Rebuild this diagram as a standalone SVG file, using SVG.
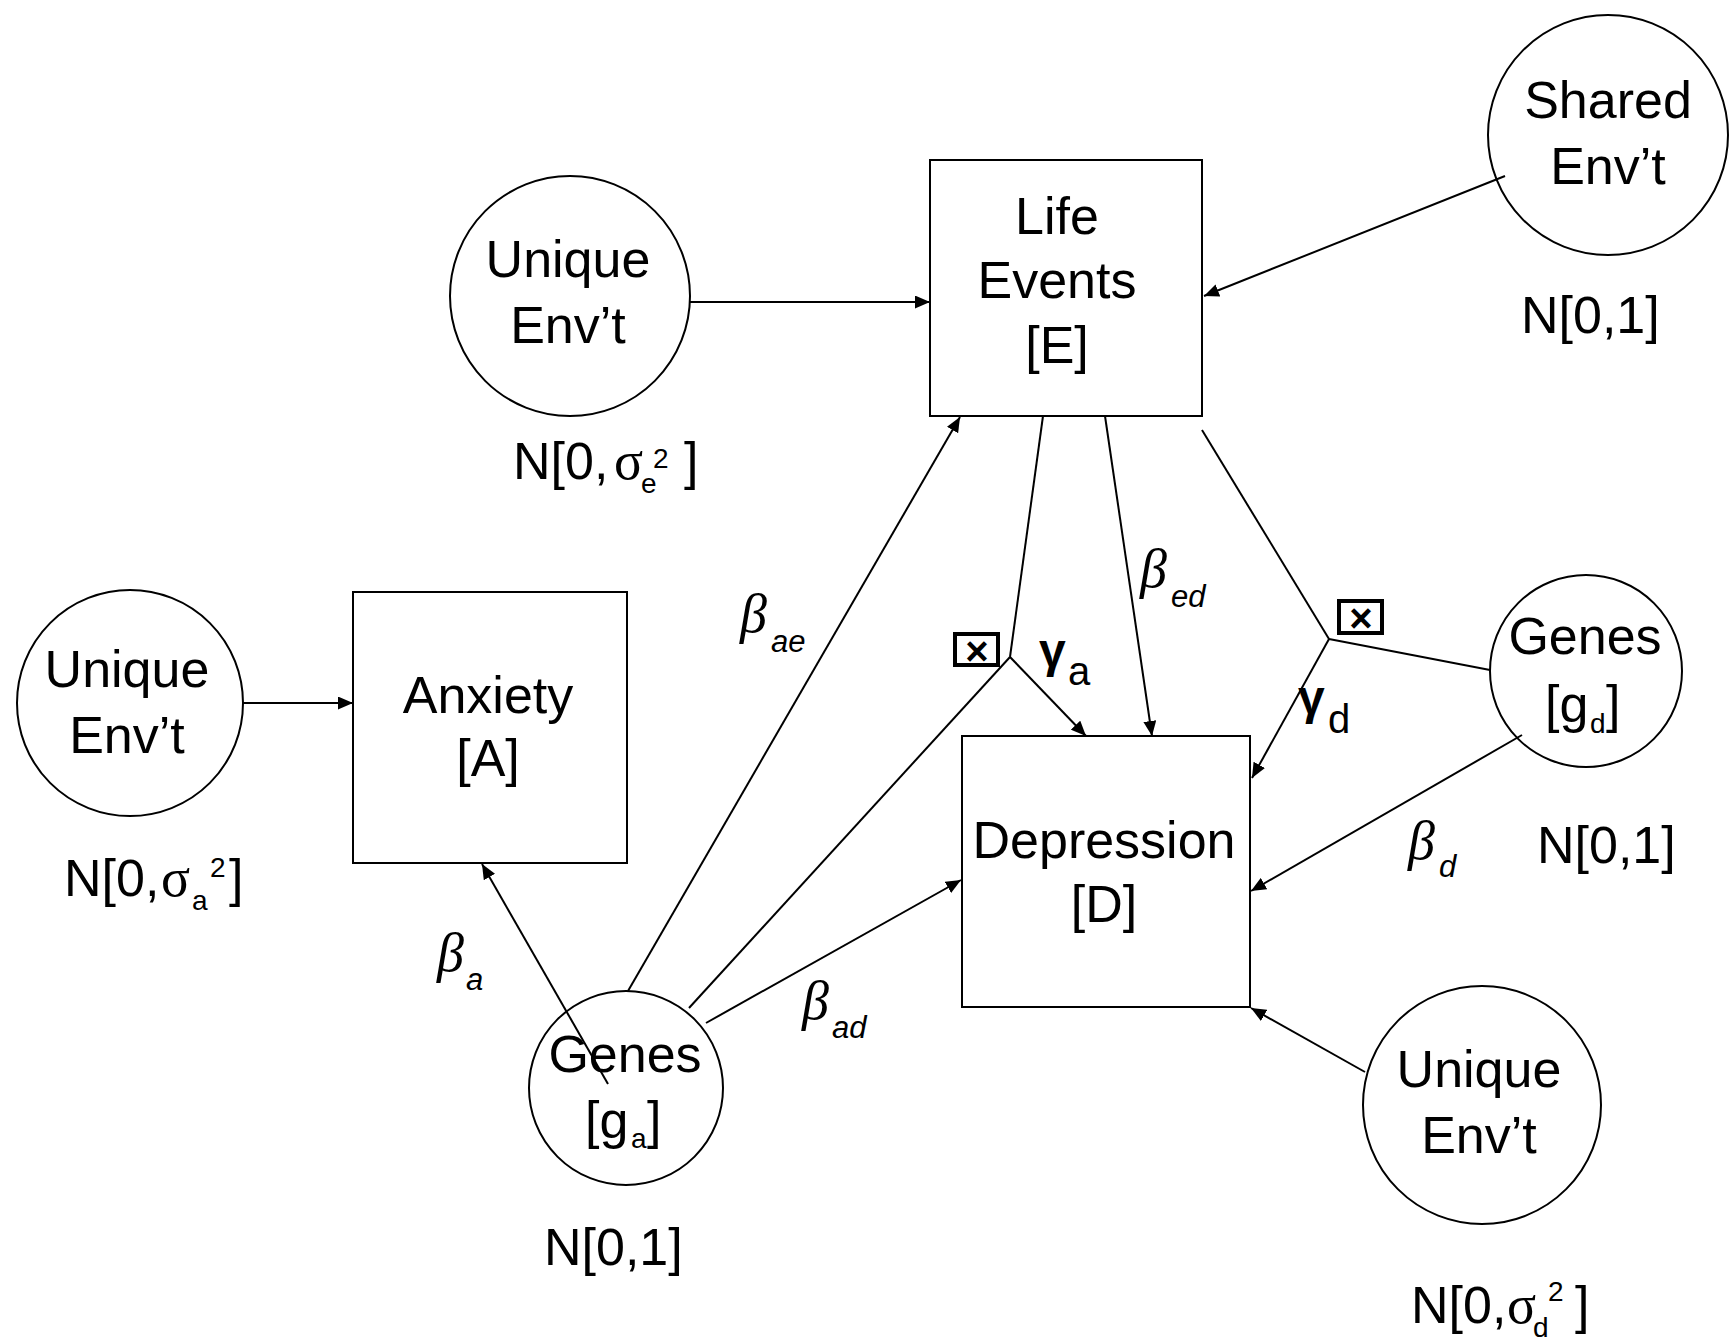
<svg xmlns="http://www.w3.org/2000/svg" width="1729" height="1341" viewBox="0 0 1729 1341">
<defs>
<style>
.t{font-family:"Liberation Sans",Arial,sans-serif;font-size:52px;fill:#000}
.c{text-anchor:middle}
.s{font-family:"Liberation Sans",Arial,sans-serif;font-size:28px;fill:#000}
.g{font-family:"Liberation Serif","Times New Roman",serif;font-size:54px;fill:#000}
.b{font-family:"Liberation Serif","Times New Roman",serif;font-style:italic;font-size:54px;fill:#000}
.bs{font-family:"Liberation Sans",Arial,sans-serif;font-style:italic;font-size:31px;fill:#000}
.gm{font-family:"Liberation Sans",Arial,sans-serif;font-weight:bold;font-size:48px;fill:#000}
.gs{font-family:"Liberation Sans",Arial,sans-serif;font-size:40px;fill:#000}
.node{fill:#fff;stroke:#000;stroke-width:2}
.open{fill:none;stroke:#000;stroke-width:2}
.ln{fill:none;stroke:#000;stroke-width:2}
.arr{marker-end:url(#ah)}
.xb{fill:#fff;stroke:#000;stroke-width:4}
.xt{font-family:"Liberation Sans",Arial,sans-serif;font-weight:bold;font-size:40px;text-anchor:middle;fill:#000}
</style>
<marker id="ah" markerUnits="userSpaceOnUse" markerWidth="16" markerHeight="13" refX="15" refY="6.5" orient="auto">
<path d="M0,0 L15,6.5 L0,13 z" fill="#000"/>
</marker>
</defs>
<rect width="1729" height="1341" fill="#fff"/>

<g id="node-life-events">
<rect class="node" x="930" y="160" width="272" height="256"/>
<text class="t c" x="1057" y="234">Life</text>
<text class="t c" x="1057" y="298">Events</text>
<text class="t c" x="1057" y="363">[E]</text>
</g>

<g id="node-anxiety">
<rect class="node" x="353" y="592" width="274" height="271"/>
<text class="t c" x="488" y="713">Anxiety</text>
<text class="t c" x="488" y="776">[A]</text>
</g>

<g id="node-depression">
<rect class="node" x="962" y="736" width="288" height="271"/>
<text class="t c" x="1104" y="858">Depression</text>
<text class="t c" x="1104" y="922">[D]</text>
</g>

<g id="node-unique-env-e">
<circle class="node" cx="570" cy="296" r="120"/>
<text class="t c" x="568" y="277">Unique</text>
<text class="t c" x="568" y="343">Env’t</text>
<text class="t" x="513" y="479">N[0,</text>
<text class="g" x="614" y="479">σ</text>
<text class="s" x="641" y="493">e</text>
<text class="s" x="653" y="468">2</text>
<text class="t" x="684" y="479">]</text>
</g>

<g id="node-shared-env">
<circle class="node" cx="1608" cy="135" r="120"/>
<text class="t c" x="1608" y="118">Shared</text>
<text class="t c" x="1608" y="184">Env’t</text>
<text class="t" x="1521" y="333">N[0,1]</text>
</g>

<g id="node-unique-env-a">
<circle class="node" cx="130" cy="703" r="113"/>
<text class="t c" x="127" y="687">Unique</text>
<text class="t c" x="127" y="753">Env’t</text>
<text class="t" x="64" y="896">N[0,</text>
<text class="g" x="161" y="896">σ</text>
<text class="s" x="192" y="910">a</text>
<text class="s" x="210" y="877">2</text>
<text class="t" x="229" y="896">]</text>
</g>

<g id="node-genes-a">
<circle class="open" cx="626" cy="1088" r="97"/>
<text class="t c" x="625" y="1072">Genes</text>
<text class="t" x="585" y="1138">[g</text>
<text class="s" x="631" y="1148">a</text>
<text class="t" x="647" y="1138">]</text>
<text class="t" x="544" y="1265">N[0,1]</text>
</g>

<g id="node-genes-d">
<circle class="node" cx="1586" cy="671" r="96"/>
<text class="t c" x="1585" y="654">Genes</text>
<text class="t" x="1545" y="722">[g</text>
<text class="s" x="1590" y="733">d</text>
<text class="t" x="1606" y="722">]</text>
<text class="t" x="1537" y="863">N[0,1]</text>
</g>

<g id="node-unique-env-d">
<circle class="node" cx="1482" cy="1105" r="119"/>
<text class="t c" x="1479" y="1087">Unique</text>
<text class="t c" x="1479" y="1153">Env’t</text>
<text class="t" x="1411" y="1323">N[0,</text>
<text class="g" x="1507" y="1323">σ</text>
<text class="s" x="1533" y="1337">d</text>
<text class="s" x="1548" y="1301">2</text>
<text class="t" x="1575" y="1323">]</text>
</g>

<g id="connectors">
<line class="ln arr" x1="690" y1="302" x2="930" y2="302"/>
<line class="ln arr" x1="1505" y1="176" x2="1204" y2="296"/>
<line class="ln arr" x1="243" y1="703" x2="353" y2="703"/>
<line class="ln arr" x1="608" y1="1084" x2="482" y2="864"/>
<line class="ln arr" x1="628" y1="991" x2="960" y2="417"/>
<line class="ln" x1="689" y1="1008" x2="1010" y2="657"/>
<line class="ln" x1="1043" y1="416" x2="1010" y2="657"/>
<line class="ln arr" x1="1010" y1="657" x2="1086" y2="736"/>
<line class="ln arr" x1="1105" y1="416" x2="1152" y2="736"/>
<line class="ln" x1="1202" y1="430" x2="1329" y2="639"/>
<line class="ln" x1="1490" y1="670" x2="1329" y2="639"/>
<line class="ln arr" x1="1329" y1="639" x2="1252" y2="778"/>
<line class="ln arr" x1="1522" y1="735" x2="1251" y2="891"/>
<line class="ln arr" x1="1365" y1="1072" x2="1251" y2="1008"/>
<line class="ln arr" x1="706" y1="1023" x2="961" y2="880"/>
</g>

<g id="interaction-a">
<rect class="xb" x="955" y="634" width="43" height="31"/>
<text class="xt" x="977" y="665">×</text>
</g>
<g id="interaction-d">
<rect class="xb" x="1339" y="601" width="43" height="32"/>
<text class="xt" x="1361" y="632">×</text>
</g>

<g id="labels">
<text class="b" x="740" y="632">β</text><text class="bs" x="771" y="652">ae</text>
<text class="b" x="437" y="971">β</text><text class="bs" x="466" y="990">a</text>
<text class="b" x="802" y="1019">β</text><text class="bs" x="832" y="1038">ad</text>
<text class="b" x="1408" y="859">β</text><text class="bs" x="1439" y="877">d</text>
<text class="b" x="1140" y="587">β</text><text class="bs" x="1171" y="607">ed</text>
<text class="gm" x="1039" y="667">γ</text><text class="gs" x="1068" y="685">a</text>
<text class="gm" x="1298" y="714">γ</text><text class="gs" x="1328" y="733">d</text>
</g>
</svg>
